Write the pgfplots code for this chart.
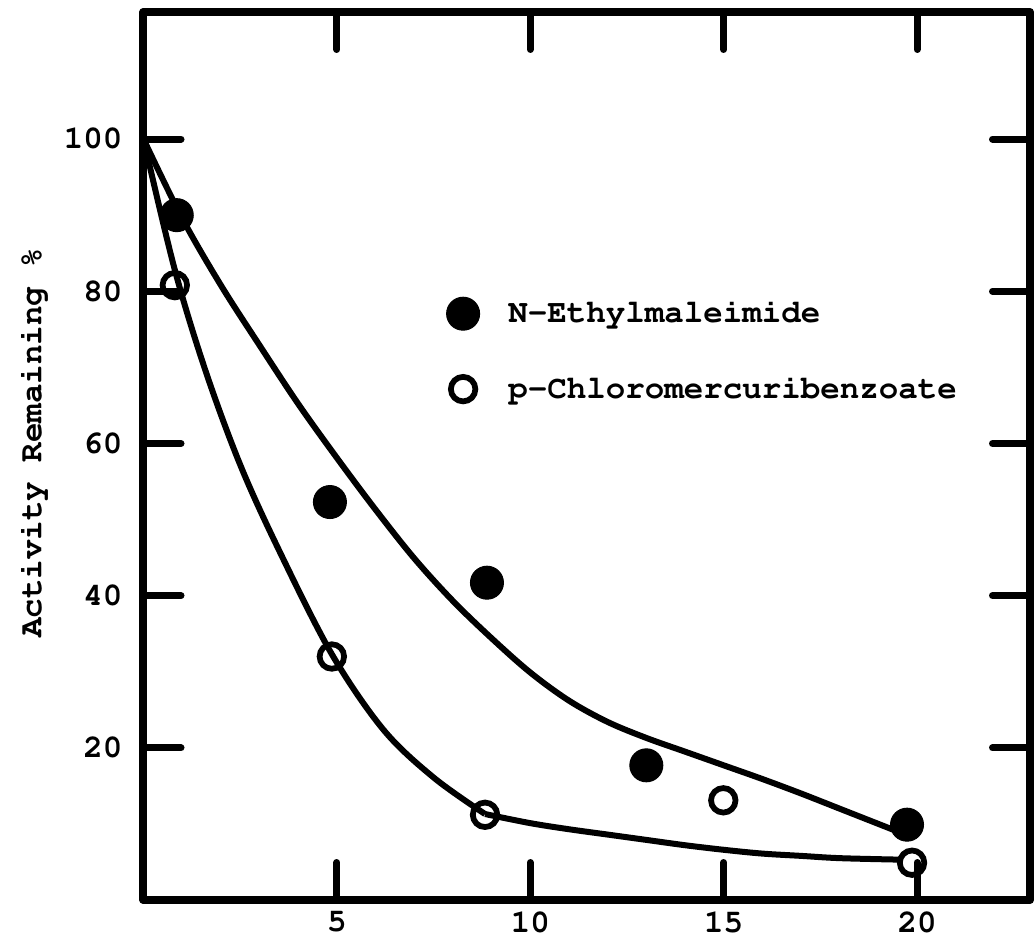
\documentclass[border=0pt]{standalone}
\usepackage[T1]{fontenc}
\usepackage{courier}
\usepackage{pgfplots}
\pgfplotsset{compat=1.18}
\newcommand{\lblfont}{\fontencoding{T1}\fontfamily{pcr}\fontseries{b}\fontsize{13}{15}\selectfont}
\begin{document}
\begin{tikzpicture}
\begin{axis}[
  scale only axis, width=354.6pt, height=355.2pt,
  xmin=0, xmax=22.92, ymin=0, ymax=116.7,
  xtick={5,10,15,20}, ytick={20,40,60,80,100},
  tick align=inside, major tick length=15pt,
  every tick/.style={line width=2.8pt, line cap=round, black},
  every axis/.append style={line width=3.2pt},
  axis line style={line width=3.2pt, line join=round},
  /pgf/number format/assume math mode=true,
  tick label style={font=\lblfont},
  yticklabel style={xshift=-3.5pt},
  ylabel={Activity Remaining \%},
  ylabel style={at={(axis description cs:-0.125,0.515)}, anchor=center, font=\lblfont},
  legend style={draw=none, fill=none, at={(axis cs:7.63,80.1)}, anchor=north west,
    font=\lblfont, row sep=16pt, line width=0.4pt,
    /tikz/every odd column/.append style={column sep=9.5pt}},
  legend cell align=left,
]
\addplot[only marks, mark=*, mark size=6.6pt, mark options={line width=0.4pt, draw=black, fill=black}]
  coordinates {(0.86,90.0) (4.82,52.3) (8.88,41.7) (13.0,17.7) (19.74,9.9)};
\addlegendentry{N-Ethylmaleimide}
\addplot[only marks, mark=o, mark size=4.9pt, mark options={line width=2.3pt, draw=black, fill=white}]
  coordinates {(0.81,80.8) (4.87,32.0) (8.83,11.2) (14.99,13.1) (19.87,4.9)};
\addlegendentry{p-Chloromercuribenzoate}
\addplot[forget plot, black, line width=2.4pt, smooth, tension=0.55]
  coordinates {(0,100) (1,89.6) (2,80.8) (3,72.9) (4,65.2) (5,58.1) (6,51.3) (7,44.9) (8,39.3) (9,34.4) (10,29.9) (11,26.2) (12,23.4) (13,21.3) (14,19.5) (15,17.7) (16,15.9) (17,14) (18,12) (19,10) (19.6,8.8)};
\addplot[forget plot, black, line width=2.4pt, smooth, tension=0.55]
  coordinates {(0,100) (0.8,83) (1.6,69.6) (2.5,57.2) (3.5,46.0) (4.87,32.3) (6.2,22.4) (7.5,16.1) (8.83,11.3)};
\addplot[forget plot, black, line width=2.4pt, smooth, tension=0.55]
  coordinates {(8.83,11.3) (10,10.1) (11,9.3) (12,8.6) (13,7.9) (14,7.2) (15,6.6) (16,6.1) (17,5.8) (18,5.5) (19.6,5.3)};
\coordinate (bl) at (rel axis cs:0,0);
\coordinate (tr) at (rel axis cs:1,1);
\end{axis}
\pgfresetboundingbox
\path ([shift={(-57.4pt,-15.2pt)}]bl) rectangle ([shift={(2.4pt,4.8pt)}]tr);
\end{tikzpicture}
\end{document}
